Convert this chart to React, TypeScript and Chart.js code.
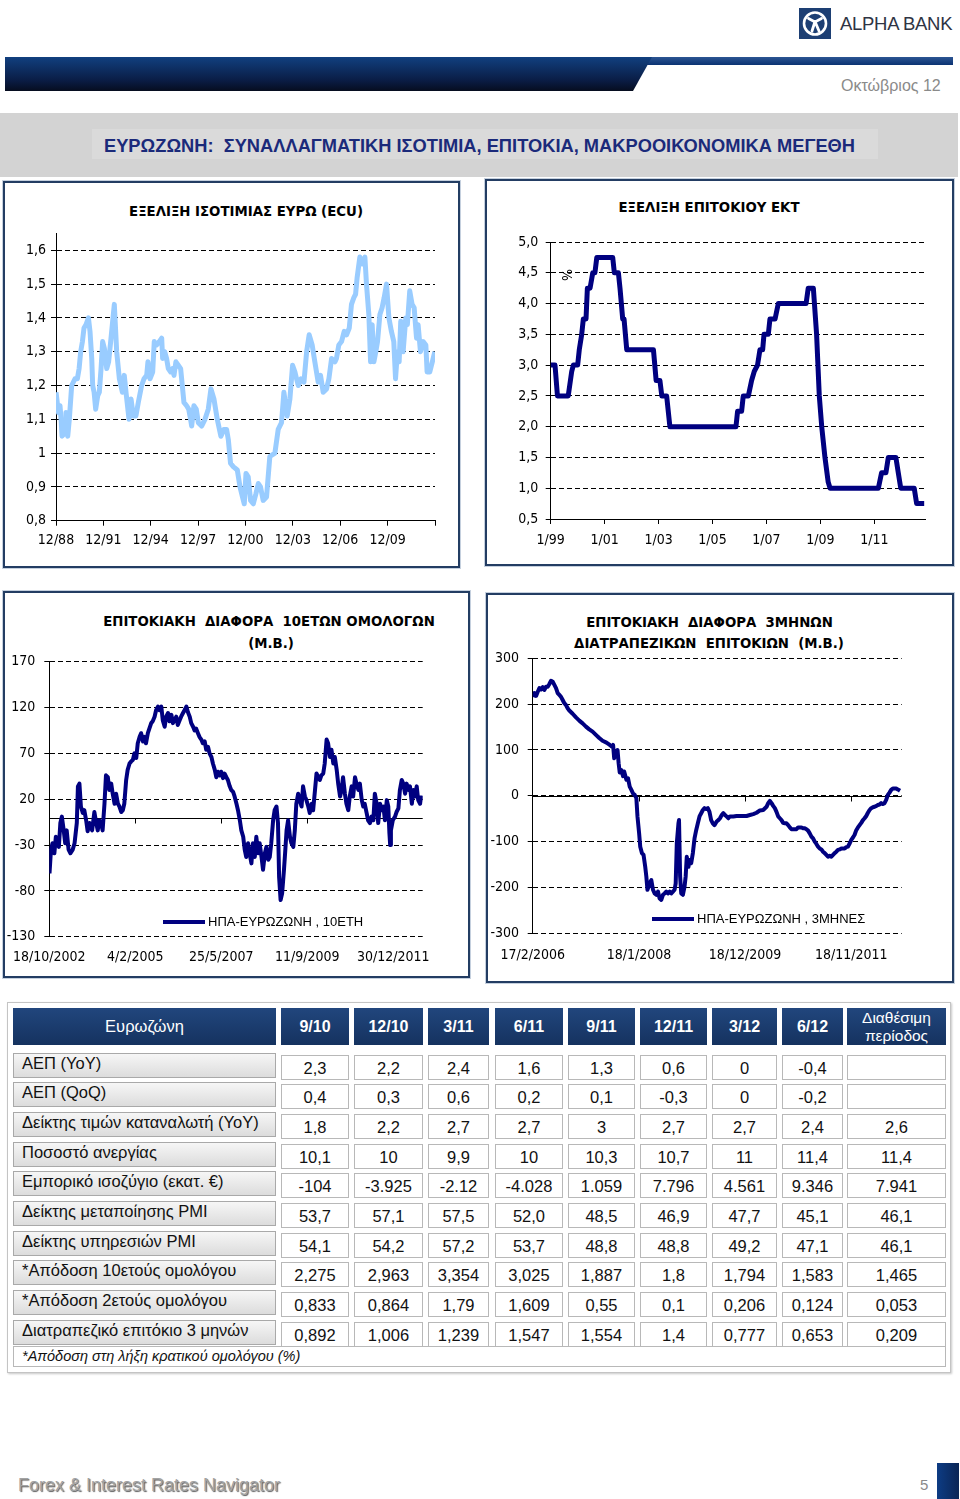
import React, { useEffect, useRef } from "react";
import { Chart, registerables } from "chart.js";
Chart.register(...registerables);

// ===================== DATA =====================
// Chart 1: EUR (ECU) exchange rate
const ecuXLabels = ["12/88", "12/91", "12/94", "12/97", "12/00", "12/03", "12/06", "12/09"];
const ecuXEnd = 2012.92;
const ecuYTicks = [0.8, 0.9, 1.0, 1.1, 1.2, 1.3, 1.4, 1.5, 1.6];
const ecuYLabels = ["0,8", "0,9", "1", "1,1", "1,2", "1,3", "1,4", "1,5", "1,6"];
const ecuYRange = [0.8, 1.65];
const ecuDates = [
  1988.92, 1989.07, 1989.17, 1989.24, 1989.30, 1989.49, 1989.55, 1989.66, 1989.76, 1989.91,
  1990.12, 1990.27, 1990.38, 1990.48, 1990.59, 1990.69, 1990.82, 1990.97, 1991.07, 1991.18,
  1991.24, 1991.33, 1991.43, 1991.56, 1991.66, 1991.77, 1991.87, 1991.98, 1992.13, 1992.25,
  1992.38, 1992.61, 1992.76, 1992.93, 1993.12, 1993.24, 1993.35, 1993.54, 1993.67, 1993.81,
  1993.98, 1994.13, 1994.34, 1994.49, 1994.66, 1994.74, 1994.87, 1995.04, 1995.14, 1995.29,
  1995.46, 1995.61, 1995.67, 1995.80, 1995.92, 1996.03, 1996.18, 1996.30, 1996.39, 1996.51,
  1996.66, 1996.81, 1997.02, 1997.19, 1997.32, 1997.44, 1997.51, 1997.65, 1997.80, 1997.93,
  1998.14, 1998.35, 1998.56, 1998.73, 1998.92, 1999.13, 1999.36, 1999.55, 1999.72, 1999.83,
  1999.97, 2000.14, 2000.40, 2000.57, 2000.73, 2000.84, 2000.95, 2001.09, 2001.24, 2001.41,
  2001.58, 2001.73, 2001.87, 2002.04, 2002.25, 2002.46, 2002.78, 2002.99, 2003.20, 2003.35,
  2003.56, 2003.73, 2003.90, 2004.05, 2004.15, 2004.26, 2004.43, 2004.62, 2004.79, 2004.95,
  2005.14, 2005.31, 2005.52, 2005.67, 2005.84, 2006.05, 2006.20, 2006.37, 2006.58, 2006.68,
  2006.83, 2007.00, 2007.17, 2007.32, 2007.49, 2007.63, 2007.78, 2007.89, 2007.99, 2008.16,
  2008.31, 2008.48, 2008.58, 2008.73, 2008.84, 2008.94, 2009.05, 2009.17, 2009.28, 2009.43,
  2009.57, 2009.70, 2009.85, 2010.00, 2010.16, 2010.31, 2010.42, 2010.54, 2010.65, 2010.75,
  2010.90, 2011.07, 2011.17, 2011.32, 2011.47, 2011.60, 2011.75, 2011.85, 2012.00, 2012.17,
  2012.34, 2012.42, 2012.59, 2012.91,
];
const ecuValues = [
  1.18, 1.12, 1.14, 1.10, 1.05, 1.06, 1.12, 1.05, 1.10, 1.20,
  1.22, 1.22, 1.25, 1.30, 1.33, 1.37, 1.38, 1.40, 1.36, 1.28,
  1.20, 1.18, 1.13, 1.17, 1.18, 1.25, 1.33, 1.31, 1.25, 1.27,
  1.33, 1.44, 1.30, 1.22, 1.18, 1.23, 1.18, 1.10, 1.16, 1.11,
  1.11, 1.15, 1.20, 1.22, 1.23, 1.27, 1.22, 1.24, 1.33, 1.32,
  1.33, 1.34, 1.28, 1.30, 1.28, 1.25, 1.24, 1.25, 1.23, 1.27,
  1.26, 1.25, 1.15, 1.14, 1.13, 1.10, 1.08, 1.14, 1.13, 1.09,
  1.08, 1.10, 1.13, 1.19, 1.16, 1.10, 1.05, 1.07, 1.07, 1.04,
  0.97, 0.96, 0.95, 0.90, 0.87, 0.85, 0.94, 0.93, 0.86, 0.85,
  0.88, 0.91, 0.90, 0.86, 0.87, 0.99, 1.00, 1.07, 1.09, 1.18,
  1.11, 1.16, 1.26, 1.24, 1.22, 1.20, 1.22, 1.21, 1.30, 1.35,
  1.32, 1.27, 1.21, 1.23, 1.18, 1.19, 1.22, 1.28, 1.27, 1.28,
  1.32, 1.33, 1.36, 1.35, 1.37, 1.44, 1.46, 1.47, 1.52, 1.58,
  1.56, 1.58, 1.50, 1.41, 1.27, 1.38, 1.27, 1.30, 1.33, 1.41,
  1.43, 1.46, 1.50, 1.40, 1.36, 1.33, 1.22, 1.30, 1.27, 1.39,
  1.30, 1.40, 1.38, 1.48, 1.44, 1.43, 1.34, 1.38, 1.30, 1.33,
  1.32, 1.24, 1.24, 1.30,
];

// Chart 2: ECB rate
const ecbXLabels = ["1/99", "1/01", "1/03", "1/05", "1/07", "1/09", "1/11"];
const ecbXEnd = 2012.88;
const ecbYTicks = [0.5, 1.0, 1.5, 2.0, 2.5, 3.0, 3.5, 4.0, 4.5, 5.0];
const ecbYLabels = ["0,5", "1,0", "1,5", "2,0", "2,5", "3,0", "3,5", "4,0", "4,5", "5,0"];
const ecbYRange = [0.5, 5.0];
const ecbDates = [
  1999.00, 1999.16, 1999.25, 1999.65, 1999.78, 1999.84, 2000.00, 2000.06, 2000.15, 2000.21,
  2000.31, 2000.36, 2000.46, 2000.56, 2000.64, 2000.71, 2001.30, 2001.36, 2001.51, 2001.57,
  2001.67, 2001.72, 2001.82, 2002.81, 2002.91, 2003.05, 2003.12, 2003.30, 2003.42, 2005.87,
  2005.93, 2006.08, 2006.14, 2006.33, 2006.45, 2006.55, 2006.67, 2006.76, 2006.86, 2006.91,
  2007.07, 2007.13, 2007.32, 2007.44, 2008.47, 2008.55, 2008.74, 2008.86, 2008.96, 2009.05,
  2009.17, 2009.29, 2009.36, 2011.15, 2011.27, 2011.43, 2011.52, 2011.80, 2011.89, 2011.98,
  2012.48, 2012.57, 2012.85,
];
const ecbValues = [
  3.0, 3.0, 2.5, 2.5, 2.9, 3.0, 3.0, 3.25, 3.5, 3.75,
  3.75, 4.25, 4.25, 4.5, 4.5, 4.75, 4.75, 4.5, 4.5, 4.25,
  3.75, 3.75, 3.25, 3.25, 2.75, 2.75, 2.5, 2.5, 2.0, 2.0,
  2.25, 2.25, 2.5, 2.5, 2.75, 2.9, 3.0, 3.25, 3.25, 3.5,
  3.5, 3.75, 3.75, 4.0, 4.0, 4.25, 4.25, 3.5, 2.5, 2.0,
  1.5, 1.1, 1.0, 1.0, 1.25, 1.25, 1.5, 1.5, 1.25, 1.0,
  1.0, 0.75, 0.75,
];

// Chart 3: 10Y bond spread (bp)
const b10XLabels = ["18/10/2002", "4/2/2005", "25/5/2007", "11/9/2009", "30/12/2011"];
const b10XEnd = 2012.78;
const b10YTicks = [-130, -80, -30, 20, 70, 120, 170];
const b10YRange = [-130, 170];
const b10Legend = "ΗΠΑ-ΕΥΡΩΖΩΝΗ , 10ΕΤΗ";
const b10Dates = [
  2002.80, 2002.84, 2002.88, 2002.93, 2002.97, 2003.05, 2003.09, 2003.13, 2003.18, 2003.22,
  2003.26, 2003.31, 2003.36, 2003.42, 2003.47, 2003.53, 2003.56, 2003.60, 2003.64, 2003.69,
  2003.73, 2003.78, 2003.82, 2003.87, 2003.94, 2004.00, 2004.05, 2004.09, 2004.13, 2004.18,
  2004.22, 2004.27, 2004.31, 2004.36, 2004.40, 2004.45, 2004.49, 2004.54, 2004.58, 2004.63,
  2004.67, 2004.72, 2004.76, 2004.80, 2004.85, 2004.89, 2004.94, 2004.98, 2005.03, 2005.07,
  2005.12, 2005.16, 2005.21, 2005.25, 2005.30, 2005.34, 2005.38, 2005.43, 2005.47, 2005.52,
  2005.56, 2005.61, 2005.65, 2005.70, 2005.74, 2005.79, 2005.83, 2005.88, 2005.92, 2005.97,
  2006.01, 2006.06, 2006.10, 2006.14, 2006.19, 2006.23, 2006.28, 2006.32, 2006.37, 2006.41,
  2006.46, 2006.50, 2006.55, 2006.59, 2006.64, 2006.68, 2006.72, 2006.77, 2006.81, 2006.86,
  2006.90, 2006.95, 2006.99, 2007.04, 2007.08, 2007.13, 2007.17, 2007.22, 2007.26, 2007.30,
  2007.35, 2007.39, 2007.44, 2007.48, 2007.53, 2007.57, 2007.62, 2007.66, 2007.71, 2007.75,
  2007.80, 2007.84, 2007.89, 2007.93, 2007.98, 2008.02, 2008.06, 2008.11, 2008.15, 2008.20,
  2008.24, 2008.29, 2008.33, 2008.38, 2008.42, 2008.47, 2008.51, 2008.56, 2008.60, 2008.65,
  2008.69, 2008.73, 2008.78, 2008.82, 2008.87, 2008.91, 2008.94, 2008.98, 2009.02, 2009.07,
  2009.10, 2009.14, 2009.18, 2009.23, 2009.27, 2009.32, 2009.36, 2009.40, 2009.45, 2009.49,
  2009.54, 2009.58, 2009.63, 2009.67, 2009.72, 2009.76, 2009.81, 2009.85, 2009.90, 2009.94,
  2009.99, 2010.03, 2010.07, 2010.12, 2010.16, 2010.21, 2010.25, 2010.30, 2010.34, 2010.39,
  2010.43, 2010.48, 2010.52, 2010.57, 2010.61, 2010.65, 2010.70, 2010.74, 2010.79, 2010.83,
  2010.88, 2010.92, 2010.97, 2011.01, 2011.06, 2011.10, 2011.15, 2011.19, 2011.23, 2011.28,
  2011.32, 2011.37, 2011.41, 2011.46, 2011.50, 2011.55, 2011.59, 2011.64, 2011.68, 2011.73,
  2011.77, 2011.82, 2011.86, 2011.89, 2011.91, 2011.93, 2011.98, 2012.04, 2012.08, 2012.13,
  2012.17, 2012.22, 2012.26, 2012.31, 2012.35, 2012.40, 2012.44, 2012.49, 2012.53, 2012.57,
  2012.62, 2012.66, 2012.71, 2012.75,
];
const b10Values = [
  -61, -35, -28, -39, -21, -32, -6, 1, -14, -28,
  -14, -35, -39, -35, -28, -6, 34, 37, 12, 5,
  8, -3, -15, -6, -14, 6, -6, -14, -3, -6,
  -14, 15, 46, 44, 30, 37, 26, 15, 26, 15,
  12, 6, 8, 15, 41, 52, 59, 61, 63, 70,
  65, 81, 88, 92, 83, 88, 81, 92, 97, 103,
  105, 110, 117, 121, 117, 121, 106, 99, 110, 114,
  105, 112, 103, 106, 110, 101, 106, 110, 114, 117,
  121, 115, 110, 103, 99, 95, 97, 92, 88, 85,
  81, 83, 74, 77, 70, 66, 59, 52, 44, 50,
  46, 50, 43, 48, 44, 41, 34, 30, 28, 23,
  15, 8, -3, -14, -21, -35, -43, -28, -39, -50,
  -28, -43, -21, -39, -28, -43, -57, -39, -32, -46,
  -43, -28, -3, 8, 12, -6, -65, -90, -83, -57,
  -39, -14, -3, -21, -28, -32, -14, 15, 26, 19,
  12, 34, 23, 19, 12, 5, 15, 8, 30, 48,
  44, 41, 46, 48, 59, 85, 81, 66, 74, 59,
  66, 52, 37, 23, 30, 44, 26, 15, 8, 23,
  34, 23, 44, 37, 30, 37, 19, 12, 15, 5,
  -3, -6, 1, -3, 26, 15, -6, 15, 8, 12,
  -3, 19, 12, -17, -30, -14, -3, 1, 6, 10,
  30, 41, 37, 26, 37, 30, 34, 15, 30, 23,
  34, 19, 15, 24,
];

// Chart 4: 3M interbank spread (bp)
const i3XLabels = ["17/2/2006", "18/1/2008", "18/12/2009", "18/11/2011"];
const i3XEnd = 2012.79;
const i3YTicks = [-300, -200, -100, 0, 100, 200, 300];
const i3YRange = [-300, 300];
const i3Legend = "ΗΠΑ-ΕΥΡΩΖΩΝΗ , 3ΜΗΝΕΣ";
const i3Dates = [
  2006.13, 2006.16, 2006.19, 2006.22, 2006.25, 2006.28, 2006.31, 2006.34, 2006.37, 2006.40,
  2006.43, 2006.46, 2006.49, 2006.52, 2006.55, 2006.58, 2006.61, 2006.64, 2006.67, 2006.70,
  2006.73, 2006.76, 2006.79, 2006.85, 2006.91, 2006.97, 2007.03, 2007.09, 2007.15, 2007.21,
  2007.27, 2007.33, 2007.39, 2007.46, 2007.52, 2007.56, 2007.58, 2007.60, 2007.63, 2007.66,
  2007.68, 2007.70, 2007.73, 2007.76, 2007.78, 2007.82, 2007.85, 2007.88, 2007.91, 2007.94,
  2007.97, 2008.00, 2008.02, 2008.05, 2008.07, 2008.10, 2008.13, 2008.16, 2008.18, 2008.20,
  2008.24, 2008.27, 2008.30, 2008.33, 2008.36, 2008.39, 2008.42, 2008.45, 2008.48, 2008.51,
  2008.54, 2008.57, 2008.60, 2008.63, 2008.66, 2008.69, 2008.71, 2008.73, 2008.76, 2008.77,
  2008.79, 2008.81, 2008.84, 2008.87, 2008.89, 2008.91, 2008.94, 2008.96, 2008.99, 2009.02,
  2009.05, 2009.08, 2009.11, 2009.14, 2009.17, 2009.20, 2009.23, 2009.26, 2009.29, 2009.32,
  2009.35, 2009.38, 2009.41, 2009.45, 2009.48, 2009.51, 2009.54, 2009.57, 2009.60, 2009.63,
  2009.66, 2009.69, 2009.75, 2009.81, 2009.87, 2009.93, 2009.99, 2010.05, 2010.11, 2010.17,
  2010.23, 2010.29, 2010.35, 2010.38, 2010.41, 2010.44, 2010.47, 2010.50, 2010.53, 2010.56,
  2010.59, 2010.62, 2010.65, 2010.68, 2010.71, 2010.74, 2010.77, 2010.80, 2010.83, 2010.89,
  2010.92, 2010.95, 2010.98, 2011.01, 2011.04, 2011.07, 2011.10, 2011.13, 2011.16, 2011.19,
  2011.22, 2011.25, 2011.28, 2011.31, 2011.34, 2011.37, 2011.40, 2011.43, 2011.46, 2011.49,
  2011.52, 2011.55, 2011.58, 2011.61, 2011.64, 2011.67, 2011.70, 2011.73, 2011.76, 2011.79,
  2011.82, 2011.85, 2011.88, 2011.91, 2011.94, 2011.97, 2012.00, 2012.03, 2012.06, 2012.09,
  2012.12, 2012.15, 2012.18, 2012.21, 2012.24, 2012.27, 2012.30, 2012.33, 2012.36, 2012.39,
  2012.42, 2012.45, 2012.48, 2012.51, 2012.54, 2012.57, 2012.60, 2012.63, 2012.66, 2012.69,
  2012.72, 2012.76,
];
const i3Values = [
  216, 224, 218, 227, 235, 232, 237, 231, 238, 238,
  244, 251, 249, 242, 235, 224, 220, 216, 209, 202,
  198, 191, 186, 179, 171, 164, 158, 151, 145, 140,
  133, 126, 120, 116, 111, 107, 111, 82, 93, 100,
  71, 51, 56, 43, 53, 35, 38, 20, 13, 5,
  2, -5, -45, -82, -111, -125, -129, -155, -176, -205,
  -191, -184, -205, -213, -216, -209, -224, -227, -216, -213,
  -209, -213, -209, -213, -209, -205, -191, -104, -60, -53,
  -176, -213, -216, -198, -176, -133, -155, -140, -147, -125,
  -93, -75, -60, -45, -38, -31, -27, -29, -27, -35,
  -53, -60, -64, -56, -53, -49, -42, -38, -42, -45,
  -49, -45, -45, -44, -44, -44, -44, -42, -40, -37,
  -32, -31, -24, -16, -11, -16, -22, -27, -35, -45,
  -49, -53, -59, -60, -60, -64, -69, -73, -73, -73,
  -69, -69, -69, -71, -71, -73, -76, -82, -89, -93,
  -100, -105, -111, -115, -117, -122, -125, -129, -133, -131,
  -133, -129, -125, -122, -118, -117, -115, -115, -115, -112,
  -111, -104, -96, -91, -85, -75, -69, -64, -59, -53,
  -49, -44, -37, -31, -27, -25, -24, -22, -20, -19,
  -16, -18, -16, -9, 2, 7, 13, 16, 16, 16,
  14, 11,
];

// Table
const tableCorner = "Ευρωζώνη";
const tablePeriods = ["9/10", "12/10", "3/11", "6/11", "9/11", "12/11", "3/12", "6/12"];
const tableLastHeader = ["Διαθέσιμη", "περίοδος"];
const tableRowLabels = [
  "ΑΕΠ (YoY)",
  "ΑΕΠ (QoQ)",
  "Δείκτης τιμών καταναλωτή (YoY)",
  "Ποσοστό ανεργίας",
  "Εμπορικό ισοζύγιο (εκατ. €)",
  "Δείκτης μεταποίησης PMI",
  "Δείκτης υπηρεσιών PMI",
  "*Απόδοση 10ετούς ομολόγου",
  "*Απόδοση 2ετούς ομολόγου",
  "Διατραπεζικό επιτόκιο 3 μηνών",
];
const rowGdpYoY = ["2,3", "2,2", "2,4", "1,6", "1,3", "0,6", "0", "-0,4", ""];
const rowGdpQoQ = ["0,4", "0,3", "0,6", "0,2", "0,1", "-0,3", "0", "-0,2", ""];
const rowCpi = ["1,8", "2,2", "2,7", "2,7", "3", "2,7", "2,7", "2,4", "2,6"];
const rowUnemp = ["10,1", "10", "9,9", "10", "10,3", "10,7", "11", "11,4", "11,4"];
const rowTrade = ["-104", "-3.925", "-2.12", "-4.028", "1.059", "7.796", "4.561", "9.346", "7.941"];
const rowPmiMan = ["53,7", "57,1", "57,5", "52,0", "48,5", "46,9", "47,7", "45,1", "46,1"];
const rowPmiSrv = ["54,1", "54,2", "57,2", "53,7", "48,8", "48,8", "49,2", "47,1", "46,1"];
const row10y = ["2,275", "2,963", "3,354", "3,025", "1,887", "1,8", "1,794", "1,583", "1,465"];
const row2y = ["0,833", "0,864", "1,79", "1,609", "0,55", "0,1", "0,206", "0,124", "0,053"];
const row3m = ["0,892", "1,006", "1,239", "1,547", "1,554", "1,4", "0,777", "0,653", "0,209"];
const tableFootnote = "*Απόδοση στη λήξη κρατικού ομολόγου (%)";

// ===================== HELPERS =====================
const AXIS_FONT = '"DejaVu Sans Condensed", "DejaVu Sans", sans-serif';
const TEXT_FONT = '"Liberation Sans", Arial, sans-serif';

function monthYear(s: string): number {
  const [m, y] = s.split("/").map(Number);
  const yy = y < 50 ? 2000 + y : 1900 + y;
  return yy + (m - 1) / 12;
}
function dayMonthYear(s: string): number {
  const [d, m, y] = s.split("/").map(Number);
  const t = Date.UTC(y, m - 1, d);
  const t0 = Date.UTC(y, 0, 1);
  const t1 = Date.UTC(y + 1, 0, 1);
  return y + (t - t0) / (t1 - t0);
}

const zeroLinePlugin = {
  id: "zeroLine",
  beforeDatasetsDraw(chart: any, _args: any, opts: any) {
    if (!opts || !opts.enabled) return;
    const { ctx, chartArea, scales } = chart;
    const x = scales.x;
    const y = scales.y;
    const py = Math.round(y.getPixelForValue(0)) + 0.5;
    ctx.save();
    ctx.strokeStyle = "#000";
    ctx.lineWidth = 1;
    ctx.setLineDash([]);
    ctx.beginPath();
    ctx.moveTo(chartArea.left, py);
    ctx.lineTo(chartArea.right, py);
    x.ticks.forEach((t: any, i: number) => {
      if (i === 0) return;
      const px = Math.round(x.getPixelForValue(t.value)) + 0.5;
      ctx.moveTo(px, py);
      ctx.lineTo(px, py + 5);
    });
    ctx.stroke();
    ctx.restore();
  },
};

interface Spec {
  dates: number[];
  values: number[];
  color: string;
  lineWidth: number;
  xTicks: number[];
  xLabels: string[];
  xMin: number;
  xMax: number;
  yTicks: number[];
  yLabels: string[];
  yMin: number;
  yMax: number;
  yw: number;
  pt: number;
  pr: number;
  xh: number;
  yPad: number;
  xPad: number;
  axisBottom: boolean;
  zero: boolean;
}

function buildConfig(s: Spec): any {
  const font = { family: AXIS_FONT, size: 14 };
  return {
    type: "line",
    data: {
      datasets: [
        {
          data: s.dates.map((d, i) => ({ x: d, y: s.values[i] })),
          borderColor: s.color,
          borderWidth: s.lineWidth,
          pointRadius: 0,
          fill: false,
          tension: 0,
          borderJoinStyle: "round",
          borderCapStyle: "butt",
        },
      ],
    },
    plugins: [zeroLinePlugin],
    options: {
      responsive: false,
      animation: false,
      devicePixelRatio: 1,
      events: [],
      layout: { padding: { left: 0, top: s.pt, right: s.pr, bottom: 0 } },
      plugins: {
        legend: { display: false },
        tooltip: { enabled: false },
        title: { display: false },
        zeroLine: { enabled: s.zero },
      },
      scales: {
        x: {
          type: "linear",
          min: s.xMin,
          max: s.xMax,
          afterBuildTicks: (sc: any) => {
            sc.ticks = s.xTicks.map((v) => ({ value: v }));
          },
          afterFit: (sc: any) => {
            sc.height = s.xh;
            sc.paddingLeft = 0;
            sc.paddingRight = 0;
          },
          ticks: {
            autoSkip: false,
            maxRotation: 0,
            minRotation: 0,
            padding: s.xPad,
            color: "#000",
            font,
            callback: (_v: any, i: number) => (s.xLabels[i] !== undefined ? s.xLabels[i] : ""),
          },
          grid: {
            display: s.axisBottom,
            drawOnChartArea: false,
            drawTicks: true,
            tickLength: 5,
            color: "#000",
            tickColor: "#000",
            lineWidth: 1,
          },
          border: { display: s.axisBottom, color: "#000", width: 1 },
        },
        y: {
          type: "linear",
          min: s.yMin,
          max: s.yMax,
          afterBuildTicks: (sc: any) => {
            sc.ticks = s.yTicks.map((v) => ({ value: v }));
          },
          afterFit: (sc: any) => {
            sc.width = s.yw;
            sc.paddingTop = 0;
            sc.paddingBottom = 0;
          },
          ticks: {
            autoSkip: false,
            padding: s.yPad,
            color: "#000",
            font,
            callback: (_v: any, i: number) => s.yLabels[i],
          },
          grid: {
            color: "#000",
            lineWidth: 1,
            drawTicks: true,
            tickLength: 5,
            tickColor: "#000",
          },
          border: { display: true, color: "#000", width: 1, dash: [5, 3] },
        },
      },
    },
  };
}

function LineChart(props: { spec: Spec; left: number; top: number; width: number; height: number }) {
  const ref = useRef<HTMLCanvasElement>(null);
  useEffect(() => {
    if (!ref.current) return;
    const chart = new Chart(ref.current, buildConfig(props.spec));
    return () => chart.destroy();
  }, []);
  return (
    <canvas
      ref={ref}
      width={props.width}
      height={props.height}
      style={{ position: "absolute", left: props.left, top: props.top, width: props.width, height: props.height }}
    />
  );
}

// ===================== SPECS =====================
const spec1: Spec = {
  dates: ecuDates,
  values: ecuValues,
  color: "#99ccff",
  lineWidth: 5,
  xTicks: [...ecuXLabels.map(monthYear), ecuXEnd],
  xLabels: ecuXLabels,
  xMin: monthYear(ecuXLabels[0]),
  xMax: ecuXEnd,
  yTicks: ecuYTicks,
  yLabels: ecuYLabels,
  yMin: ecuYRange[0],
  yMax: ecuYRange[1],
  yw: 50,
  pt: 11.4,
  pr: 17,
  xh: 31.3,
  yPad: 5,
  xPad: 6,
  axisBottom: true,
  zero: false,
};
const spec2: Spec = {
  dates: ecbDates,
  values: ecbValues,
  color: "#000080",
  lineWidth: 5,
  xTicks: ecbXLabels.map(monthYear),
  xLabels: ecbXLabels,
  xMin: monthYear(ecbXLabels[0]),
  xMax: ecbXEnd,
  yTicks: ecbYTicks,
  yLabels: ecbYLabels,
  yMin: ecbYRange[0],
  yMax: ecbYRange[1],
  yw: 60.7,
  pt: 12,
  pr: 15,
  xh: 31,
  yPad: 7.5,
  xPad: 8,
  axisBottom: true,
  zero: false,
};
const spec3: Spec = {
  dates: b10Dates,
  values: b10Values,
  color: "#000080",
  lineWidth: 4,
  xTicks: b10XLabels.map(dayMonthYear),
  xLabels: b10XLabels,
  xMin: dayMonthYear(b10XLabels[0]),
  xMax: b10XEnd,
  yTicks: b10YTicks,
  yLabels: b10YTicks.map(String),
  yMin: b10YRange[0],
  yMax: b10YRange[1],
  yw: 45.3,
  pt: 11.7,
  pr: 41.3,
  xh: 33.3,
  yPad: 9,
  xPad: 7,
  axisBottom: false,
  zero: true,
};
const spec4: Spec = {
  dates: i3Dates,
  values: i3Values,
  color: "#000080",
  lineWidth: 4,
  xTicks: i3XLabels.map(dayMonthYear),
  xLabels: i3XLabels,
  xMin: dayMonthYear(i3XLabels[0]),
  xMax: i3XEnd,
  yTicks: i3YTicks,
  yLabels: i3YTicks.map(String),
  yMin: i3YRange[0],
  yMax: i3YRange[1],
  yw: 44.7,
  pt: 13.3,
  pr: 46.3,
  xh: 36.7,
  yPad: 8.7,
  xPad: 9,
  axisBottom: false,
  zero: true,
};

// ===================== LAYOUT =====================
const abs = (l: number, t: number, w: number, h: number, extra: React.CSSProperties = {}): React.CSSProperties => ({
  position: "absolute",
  left: l,
  top: t,
  width: w,
  height: h,
  boxSizing: "border-box",
  ...extra,
});

function Box(props: { l: number; t: number; r: number; b: number }) {
  return (
    <div
      style={abs(props.l, props.t, props.r - props.l, props.b - props.t, {
        border: "2px solid #233d63",
        boxShadow: "0 0 0 1px #c5d0de",
        background: "#fff",
      })}
    />
  );
}

function CenterText(props: { cx: number; cy: number; text: string; style?: React.CSSProperties }) {
  return (
    <div
      style={{
        position: "absolute",
        left: props.cx - 250,
        top: props.cy - 10,
        width: 500,
        height: 20,
        lineHeight: "20px",
        textAlign: "center",
        whiteSpace: "pre",
        ...props.style,
      }}
    >
      {props.text}
    </div>
  );
}

const chartTitleStyle: React.CSSProperties = {
  fontFamily: AXIS_FONT,
  fontWeight: "bold",
  fontSize: 14.8,
  color: "#000",
};

function Legend(props: { x1: number; x2: number; y: number; text: string }) {
  return (
    <>
      <div style={abs(props.x1, props.y - 2, props.x2 - props.x1, 4, { background: "#000080" })} />
      <div
        style={{
          position: "absolute",
          left: props.x2 + 3,
          top: props.y - 9,
          height: 18,
          lineHeight: "18px",
          fontFamily: TEXT_FONT,
          fontSize: 13,
          color: "#000",
          whiteSpace: "pre",
        }}
      >
        {props.text}
      </div>
    </>
  );
}

const colX: [number, number][] = [
  [281, 349],
  [354, 423],
  [428, 489],
  [495, 563],
  [568, 635],
  [640, 707],
  [712, 777],
  [782, 843],
  [847, 946],
];

function Table() {
  const rows = [rowGdpYoY, rowGdpQoQ, rowCpi, rowUnemp, rowTrade, rowPmiMan, rowPmiSrv, row10y, row2y, row3m];
  const headBg = "linear-gradient(#21467d, #15325f)";
  const pitch = 29.67;
  const top0 = 1052.5;
  const els: React.ReactNode[] = [];
  els.push(
    <div
      key="frame"
      style={abs(7, 1002, 944, 371, { border: "1px solid #c4c4c4", boxShadow: "1px 1px 2px #c8c8c8", background: "#fff" })}
    />
  );
  els.push(
    <div
      key="h0"
      style={abs(13, 1008, 263, 37, {
        background: headBg,
        color: "#fff",
        fontSize: 16.5,
        textAlign: "center",
        lineHeight: "37px",
      })}
    >
      {tableCorner}
    </div>
  );
  tablePeriods.forEach((p, i) => {
    const [a, b] = colX[i];
    els.push(
      <div
        key={"h" + (i + 1)}
        style={abs(a, 1008, b - a, 37, {
          background: headBg,
          color: "#fff",
          fontSize: 16,
          fontWeight: "bold",
          textAlign: "center",
          lineHeight: "37px",
        })}
      >
        {p}
      </div>
    );
  });
  {
    const [a, b] = colX[8];
    els.push(
      <div
        key="hlast"
        style={abs(a, 1008, b - a, 37, {
          background: headBg,
          color: "#fff",
          fontSize: 15.5,
          textAlign: "center",
          lineHeight: "18px",
          paddingTop: 1,
        })}
      >
        {tableLastHeader[0]}
        <br />
        {tableLastHeader[1]}
      </div>
    );
  }
  tableRowLabels.forEach((label, r) => {
    const t = top0 + r * pitch;
    els.push(
      <div
        key={"l" + r}
        style={abs(13, t, 263, 25, {
          background: "linear-gradient(#f6f6f6, #dcdcdc)",
          border: "1px solid #a9a9a9",
          fontSize: 16.5,
          lineHeight: "18px",
          paddingLeft: 8,
          color: "#111",
          whiteSpace: "nowrap",
        })}
      >
        {label}
      </div>
    );
    rows[r].forEach((v, c) => {
      const [a, b] = colX[c];
      els.push(
        <div
          key={"v" + r + "_" + c}
          style={abs(a, t + 2, b - a, 25, {
            background: "#fff",
            border: "1px solid #b8b8b8",
            fontSize: 16.5,
            lineHeight: "25px",
            textAlign: "center",
            color: "#111",
          })}
        >
          {v}
        </div>
      );
    });
  });
  els.push(
    <div
      key="foot"
      style={abs(13, 1346, 933, 21, {
        background: "#fff",
        border: "1px solid #b8b8b8",
        fontSize: 14.5,
        fontStyle: "italic",
        lineHeight: "19px",
        paddingLeft: 8,
        color: "#111",
      })}
    >
      {tableFootnote}
    </div>
  );
  return <>{els}</>;
}

export default function App() {
  return (
    <div
      style={{
        position: "absolute",
        left: 0,
        top: 0,
        width: 960,
        height: 1499,
        background: "#fff",
        overflow: "hidden",
        fontFamily: TEXT_FONT,
      }}
    >
      {/* Logo */}
      <div style={abs(799, 8, 32, 31, { background: "#1d3f73" })}>
        <svg width="32" height="31" viewBox="0 0 32 31" style={{ display: "block" }}>
          <circle cx="16" cy="15.5" r="11" fill="none" stroke="#fff" strokeWidth="2.6" />
          <path d="M9.5 10.5 L16 14 L22.5 10.5" fill="none" stroke="#fff" strokeWidth="2.8" strokeLinecap="round" />
          <path d="M16 13.5 L13 23 M16 13.5 L20 23" fill="none" stroke="#fff" strokeWidth="2.8" strokeLinecap="round" />
        </svg>
      </div>
      <div
        style={{
          position: "absolute",
          left: 840,
          top: 13,
          height: 22,
          lineHeight: "22px",
          fontSize: 18.5,
          color: "#2f3444",
          whiteSpace: "nowrap",
          letterSpacing: -0.3,
        }}
      >
        ALPHA BANK
      </div>

      {/* Blue banner */}
      <div style={abs(5, 57, 948, 8, { background: "linear-gradient(#2c5593, #0b3372)" })} />
      <div
        style={abs(5, 57, 648, 34, {
          background: "linear-gradient(#11407f, #0a1c44 70%, #060d1f)",
          clipPath: "polygon(0 0, 647px 0, 628px 100%, 0 100%)",
        })}
      />
      <div
        style={{
          position: "absolute",
          left: 841,
          top: 76,
          height: 20,
          lineHeight: "20px",
          fontSize: 16,
          color: "#8a8a8a",
          whiteSpace: "nowrap",
        }}
      >
        Οκτώβριος 12
      </div>

      {/* Section title band */}
      <div style={abs(0, 113, 958, 64, { background: "#d3d3d3" })} />
      <div style={abs(92, 129, 786, 30, { background: "#dadada" })} />
      <CenterText
        cx={479.5}
        cy={146}
        text="ΕΥΡΩΖΩΝΗ:  ΣΥΝΑΛΛΑΓΜΑΤΙΚΗ ΙΣΟΤΙΜΙΑ, ΕΠΙΤΟΚΙΑ, ΜΑΚΡΟΟΙΚΟΝΟΜΙΚΑ ΜΕΓΕΘΗ"
        style={{ fontSize: 18.3, fontWeight: "bold", color: "#1b2a7a", width: 900, left: 29.5 }}
      />

      {/* Chart boxes */}
      <Box l={3} t={181} r={460} b={568} />
      <Box l={485} t={179} r={954} b={566} />
      <Box l={3} t={591} r={470} b={978} />
      <Box l={486} t={593} r={954} b={983} />

      {/* Chart titles */}
      <CenterText cx={246} cy={211} text="ΕΞΕΛΙΞΗ ΙΣΟΤΙΜΙΑΣ ΕΥΡΩ (ECU)" style={chartTitleStyle} />
      <CenterText cx={709} cy={207} text="ΕΞΕΛΙΞΗ ΕΠΙΤΟΚΙΟΥ ΕΚΤ" style={chartTitleStyle} />
      <CenterText cx={269} cy={620.5} text="ΕΠΙΤΟΚΙΑΚΗ  ΔΙΑΦΟΡΑ  10ΕΤΩΝ ΟΜΟΛΟΓΩΝ" style={chartTitleStyle} />
      <CenterText cx={271} cy={642.5} text="(Μ.Β.)" style={chartTitleStyle} />
      <CenterText cx={709.5} cy={622} text="ΕΠΙΤΟΚΙΑΚΗ  ΔΙΑΦΟΡΑ  3ΜΗΝΩΝ" style={chartTitleStyle} />
      <CenterText cx={709} cy={643} text="ΔΙΑΤΡΑΠΕΖΙΚΩΝ  ΕΠΙΤΟΚΙΩΝ  (Μ.Β.)" style={chartTitleStyle} />

      {/* Charts */}
      <LineChart spec={spec1} left={6} top={222} width={446} height={330} />
      <LineChart spec={spec2} left={490} top={230} width={450} height={320} />
      <LineChart spec={spec3} left={4} top={650} width={460} height={320} />
      <LineChart spec={spec4} left={488} top={645} width={460} height={325} />

      {/* % label */}
      <div
        style={{
          position: "absolute",
          left: 559,
          top: 266,
          width: 16,
          height: 18,
          lineHeight: "18px",
          textAlign: "center",
          fontFamily: AXIS_FONT,
          fontSize: 14,
          transform: "rotate(90deg)",
        }}
      >
        %
      </div>

      {/* Legends */}
      <Legend x1={163} x2={205} y={922} text={b10Legend} />
      <Legend x1={652} x2={694} y={918.5} text={i3Legend} />

      {/* Table */}
      <Table />

      {/* Footer */}
      <div
        style={{
          position: "absolute",
          left: 18,
          top: 1474,
          height: 22,
          lineHeight: "22px",
          fontSize: 18,
          color: "#a3a3a3",
          textShadow: "1px 1px 1px #5a5a5a",
          whiteSpace: "nowrap",
        }}
      >
        Forex &amp; Interest Rates Navigator
      </div>
      <div
        style={{
          position: "absolute",
          left: 920,
          top: 1476,
          height: 18,
          lineHeight: "18px",
          fontSize: 15,
          color: "#8a8a8a",
        }}
      >
        5
      </div>
      <div style={abs(937, 1463, 22, 36, { background: "linear-gradient(90deg, #0d3c84, #0a2555)" })} />
    </div>
  );
}
